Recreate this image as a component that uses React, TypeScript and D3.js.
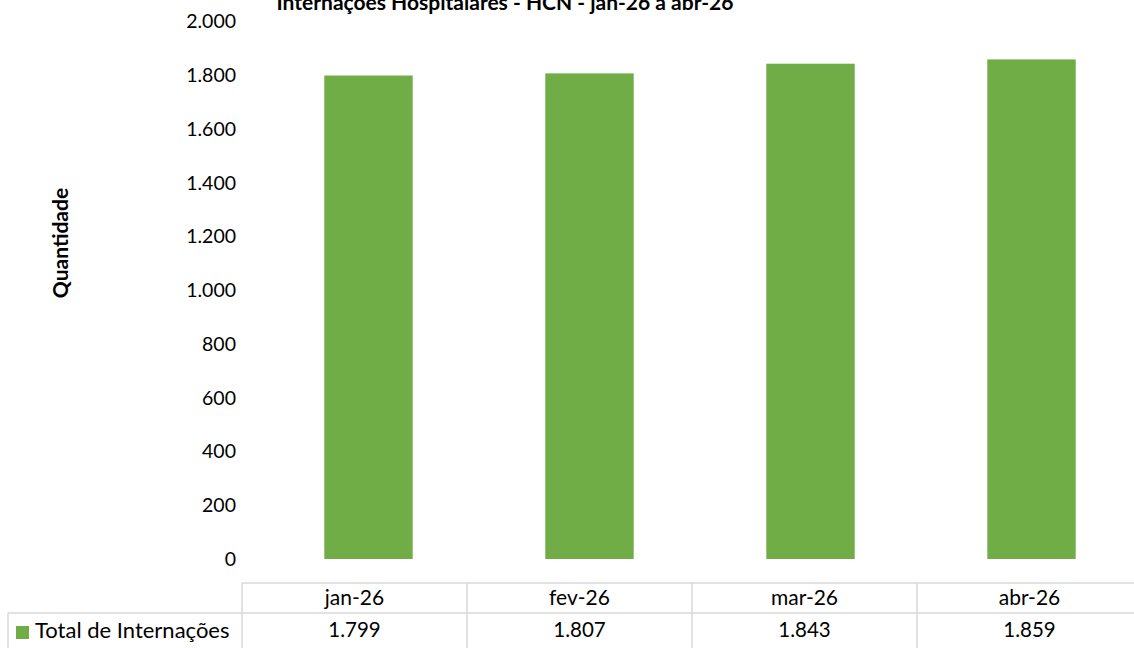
import React from 'react';
import * as d3 from 'd3';

const months: string[] = ['jan-26', 'fev-26', 'mar-26', 'abr-26'];
const totalInternacoes: number[] = [1799, 1807, 1843, 1859];
const yTicks: number[] = [0, 200, 400, 600, 800, 1000, 1200, 1400, 1600, 1800, 2000];
const seriesName = 'Total de Internações';
const chartTitle = 'Internações Hospitalares - HCN - jan-26 a abr-26';

const WIDTH = 1134;
const HEIGHT = 648;
const FONT = 'Lato, "Open Sans", sans-serif';
const BAR_COLOR = '#70AD47';
const GRID = '#d9d9d9';

const fmt = (v: number): string => d3.format(',')(v).replace(/,/g, '.');

const App: React.FC = () => {
    // bars and table columns are slightly offset in the original, so two band scales
    const x = d3.scaleBand<string>().domain(months).range([258, 1142]).paddingInner(0.6).paddingOuter(0.3);
    const xTable = d3.scaleBand<string>().domain(months).range([242, 1142]);
    const y = d3.scaleLinear().domain([0, 2000]).range([559, 21.5]);

    const tableTop = 583;
    const rowH = 30;

    return (
        <div style={{ position: 'fixed', left: 0, top: 0 }}>
            <svg width={WIDTH} height={HEIGHT} style={{ display: 'block', background: '#fff', fontFamily: FONT }}>
                <text x={505} y={10} textAnchor="middle" fontWeight={700} fontSize={21} fill="#000">
                    {chartTitle}
                </text>

                <text
                    transform={`translate(68, 243) rotate(-90)`}
                    textAnchor="middle"
                    fontWeight={700}
                    fontSize={21}
                    fill="#000"
                >
                    Quantidade
                </text>

                <g>
                    {yTicks.map((t) => (
                        <text key={t} x={236} y={y(t)} dy="0.35em" textAnchor="end" fontSize={19.5} fill="#000">
                            {fmt(t)}
                        </text>
                    ))}
                </g>

                <g>
                    {months.map((m, i) => (
                        <rect
                            key={m}
                            x={x(m)}
                            y={y(totalInternacoes[i])}
                            width={x.bandwidth()}
                            height={y(0) - y(totalInternacoes[i])}
                            fill={BAR_COLOR}
                        />
                    ))}
                </g>

                {/* data table */}
                <g stroke={GRID} strokeWidth={1.5}>
                    <line x1={242} x2={WIDTH} y1={tableTop} y2={tableTop} />
                    <line x1={8} x2={WIDTH} y1={tableTop + rowH} y2={tableTop + rowH} />
                    <line x1={8} x2={8} y1={tableTop + rowH} y2={HEIGHT} />
                    {months.map((m) => (
                        <line key={m} x1={xTable(m)} x2={xTable(m)} y1={tableTop} y2={HEIGHT} />
                    ))}
                </g>
                <g fill="#000" textAnchor="middle">
                    {months.map((m, i) => (
                        <React.Fragment key={m}>
                            <text x={(xTable(m) as number) + xTable.bandwidth() / 2} y={tableTop + rowH / 2} dy="0.35em" fontSize={21}>
                                {m}
                            </text>
                            <text x={(xTable(m) as number) + xTable.bandwidth() / 2} y={tableTop + rowH * 1.5 + 2} dy="0.35em" fontSize={20.5}>
                                {fmt(totalInternacoes[i])}
                            </text>
                        </React.Fragment>
                    ))}
                </g>
                <rect x={16} y={626} width={13} height={13} fill={BAR_COLOR} />
                <text x={35} y={tableTop + rowH * 1.5 + 2} dy="0.35em" fontSize={22} fill="#000">
                    {seriesName}
                </text>
            </svg>
        </div>
    );
};

export default App;
